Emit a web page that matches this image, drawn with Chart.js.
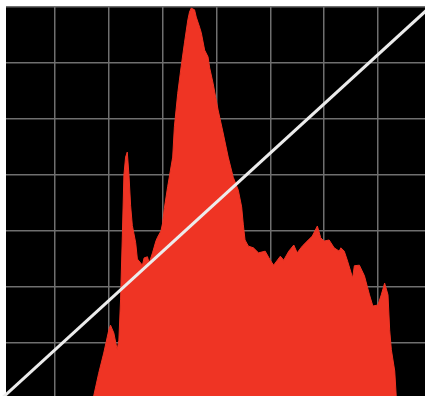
<!DOCTYPE html>
<html>
<head>
<meta charset="utf-8">
<script src="https://cdn.jsdelivr.net/npm/chart.js@4/dist/chart.umd.min.js"></script>
<style>
    html, body { margin: 0; padding: 0; background: #fff; }
    #histo { display: block; }
</style>
</head>
<body>
<canvas id="histo" width="425" height="396"></canvas>
<script>
// niveles (0-255) y conteos del histograma rojo
const niveles = [54, 55, 58, 61, 64, 65, 67, 69, 70, 71, 72, 73, 74, 75, 76, 77, 78, 80, 81, 84,
    85, 87, 88, 90, 92, 93, 95, 96, 97, 99, 102, 103, 105, 107, 109, 111, 112, 113, 115, 116,
    118, 119, 121, 123, 124, 126, 129, 132, 135, 138, 141, 143, 144, 145, 147, 150, 153, 157, 160, 162,
    166, 168, 171, 174, 176, 179, 182, 185, 188, 190, 192, 195, 198, 201, 202, 204, 206, 209, 210, 213,
    216, 219, 221, 224, 226, 228, 230, 231, 232, 234, 235];
const conteos = [0, 5, 46, 82, 123, 132, 118, 88, 105, 177, 284, 400, 432, 441, 400, 345, 310, 279, 250, 239,
    252, 254, 243, 261, 282, 289, 300, 314, 340, 379, 432, 486, 546, 593, 636, 677, 691, 698, 695, 682,
    664, 654, 623, 611, 591, 564, 516, 475, 432, 396, 373, 343, 311, 284, 273, 270, 261, 264, 248, 239,
    255, 248, 264, 275, 261, 273, 282, 291, 309, 288, 282, 284, 270, 264, 270, 264, 246, 216, 238, 239,
    220, 186, 166, 168, 186, 207, 186, 123, 88, 50, 0];

// curva diagonal (entrada -> salida)
const curvaX = [0, 255];
const curvaY = [0, 700];

// lineas de la cuadricula
const ticksX = [32, 64, 96, 128, 160, 192, 224];
const ticksY = [100, 200, 300, 400, 500, 600, 700];

const fondoNegro = {
    id: "fondoNegro",
    beforeDraw(chart) {
        const a = chart.chartArea;
        const ctx = chart.ctx;
        ctx.save();
        ctx.fillStyle = "#000";
        ctx.fillRect(a.left, a.top, a.right - a.left, a.bottom - a.top);
        ctx.restore();
    }
};

const ctx = document.getElementById("histo").getContext("2d");

new Chart(ctx, {
    type: "line",
    data: {
        datasets: [
            {
                label: "Curva",
                data: curvaX.map((x, i) => ({ x: x, y: curvaY[i] })),
                borderColor: "#ececec",
                borderWidth: 3,
                pointRadius: 3,
                pointStyle: "rect",
                pointBackgroundColor: "#f2e600",
                pointBorderWidth: 0,
                clip: false,
                order: 0
            },
            {
                label: "Rojo",
                data: niveles.map((x, i) => ({ x: x, y: conteos[i] })),
                borderColor: "#ef3424",
                backgroundColor: "#ef3424",
                borderWidth: 1,
                pointRadius: 0,
                fill: "start",
                tension: 0,
                order: 1
            }
        ]
    },
    options: {
        responsive: false,
        animation: false,
        layout: { autoPadding: false, padding: { left: 6, top: 7, right: 0, bottom: 0 } },
        plugins: {
            legend: { display: false },
            tooltip: { enabled: false }
        },
        scales: {
            x: {
                type: "linear",
                min: 2.9,
                max: 252,
                afterBuildTicks: s => { s.ticks = ticksX.map(v => ({ value: v })); },
                afterFit: s => { s.height = 0; },
                ticks: { display: false },
                border: { display: false },
                grid: { color: "#6f6f6f", lineWidth: 1.5, drawTicks: false }
            },
            y: {
                min: 5.4,
                max: 700,
                afterBuildTicks: s => { s.ticks = ticksY.map(v => ({ value: v })); },
                afterFit: s => { s.width = 0; },
                ticks: { display: false },
                border: { display: false },
                grid: { color: "#6f6f6f", lineWidth: 1.5, drawTicks: false }
            }
        }
    },
    plugins: [fondoNegro]
});
</script>
</body>
</html>
